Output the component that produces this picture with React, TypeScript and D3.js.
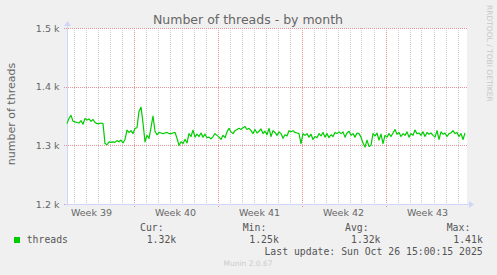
import React from "react";
import * as d3 from "d3";

const W = 497;
const H = 275;

// series: threads, one sample every 4 hours
const startTime = Date.UTC(2025, 8, 23, 11);
const endTime = Date.UTC(2025, 9, 26, 19);
const stepMs = 4 * 3600 * 1000;
const threads = [
  1337, 1346, 1351, 1341, 1340, 1339, 1338, 1342, 1336, 1346, 1343, 1345, 1341, 1344, 1339, 1337, 1337, 1338, 1337,
  1303, 1301, 1306, 1305, 1306, 1305, 1308, 1306, 1309, 1304, 1310,
  1326, 1322, 1325, 1320, 1329, 1330, 1358, 1365, 1338, 1306, 1317, 1312, 1330, 1350, 1324, 1318, 1322, 1321, 1320, 1321, 1322,
  1320, 1320, 1321, 1322, 1312, 1300, 1306, 1303, 1310, 1304, 1320, 1315, 1326, 1314, 1319, 1315, 1321, 1314, 1319, 1313, 1314, 1311, 1315, 1320, 1317, 1314, 1310, 1317, 1313,
  1323, 1329, 1323, 1320, 1325, 1327, 1329, 1327, 1330, 1332, 1327, 1329, 1325, 1320, 1327, 1321, 1324, 1328, 1320, 1324, 1318, 1329, 1315, 1325, 1322, 1317, 1323, 1320, 1312, 1318, 1316, 1325, 1323, 1325, 1322, 1321, 1320,
  1303, 1320, 1317, 1320, 1314, 1319, 1310, 1315, 1313, 1320, 1316, 1322, 1314, 1320, 1313, 1318, 1315, 1322, 1320, 1323, 1320, 1323, 1314, 1321, 1324, 1317, 1320, 1314, 1321, 1320, 1314,
  1304, 1297, 1309, 1298, 1300,
  1320, 1316, 1321, 1309, 1319, 1303, 1317, 1314, 1320, 1315, 1321, 1327, 1319, 1322, 1315, 1320, 1317, 1323, 1314, 1320, 1317, 1326, 1320, 1321, 1317, 1323, 1315, 1322, 1319, 1321, 1317, 1314, 1325, 1310, 1323, 1319, 1321, 1315, 1320, 1321, 1325, 1320, 1322, 1315, 1320, 1310, 1321,
];

const yTicks = [1200, 1300, 1400, 1500];
const yTickLabels = ["1.2 k", "1.3 k", "1.4 k", "1.5 k"];
const yDomain = [1200, 1500];

const legendName = "threads";
const legendHeaders = ["Cur:", "Min:", "Avg:", "Max:"];
const legendValues = ["1.32k", "1.25k", "1.32k", "1.41k"];
const titleText = "Number of threads - by month";
const yLabel = "number of threads";
const lastUpdate = "Last update: Sun Oct 26 15:00:15 2025";
const watermark = "Munin 2.0.67";
const sideText = "RRDTOOL / TOBI OETIKER";

const SANS = "'DejaVu Sans', sans-serif";
const MONO = "'DejaVu Sans Mono', monospace";

export default function App() {
  const left = 67;
  const right = 467;
  const top = 28;
  const bottom = 204;

  const x = d3.scaleUtc().domain([new Date(startTime), new Date(endTime)]).range([left, right]);
  const y = d3.scaleLinear().domain(yDomain).range([bottom, top]);

  const data = threads.map((v, i) => ({ t: new Date(startTime + i * stepMs), v }));
  const line = d3
    .line<{ t: Date; v: number }>()
    .x((d) => x(d.t))
    .y((d) => y(d.v));

  const days = d3.utcDay.range(new Date(startTime), new Date(endTime));
  const weekLabels = d3.utcMonday
    .range(d3.utcMonday.offset(new Date(startTime), -1), new Date(endTime))
    .map((m) => ({ t: new Date(+m + 3.5 * 86400000), label: "Week " + d3.utcFormat("%V")(m) }))
    .filter((d) => x(d.t) > left && x(d.t) < right);

  const crisp = (v: number) => Math.round(v) + 0.5;
  const axisColor = "#CFD6F8";
  const minorGrid = "#cdcdcd";
  const majorGrid = "#e59393";
  const fontColor = "#666666";

  const colX = [140, 242.7, 345, 446.7];
  const valX = [146.7, 249.3, 351, 453.3];

  return (
    <svg width={W} height={H} style={{ position: "absolute", left: 0, top: 0, display: "block" }}>
      <rect x={0} y={0} width={W} height={H} fill="#F0F0F0" />
      <rect x={left} y={top} width={right - left} height={bottom - top} fill="#FFFFFF" />

      {/* vertical grid: minor (daily) */}
      {days
        .filter((d) => d.getUTCDay() !== 1)
        .map((d) => {
          const xv = crisp(x(d));
          return (
            <line
              key={"vm" + +d}
              x1={xv}
              x2={xv}
              y1={top}
              y2={bottom + 2}
              stroke={minorGrid}
              strokeWidth={1}
              strokeDasharray="1,1"
            />
          );
        })}
      {/* vertical grid: major (weekly) */}
      {days
        .filter((d) => d.getUTCDay() === 1)
        .map((d) => {
          const xv = crisp(x(d));
          return (
            <line
              key={"vM" + +d}
              x1={xv}
              x2={xv}
              y1={top}
              y2={bottom + 3}
              stroke={majorGrid}
              strokeWidth={1}
              strokeDasharray="1,1"
            />
          );
        })}

      {/* horizontal grid */}
      {yTicks.map((v) => {
        const yv = crisp(y(v));
        return (
          <line key={"h" + v} x1={left - 3} x2={right} y1={yv} y2={yv} stroke={majorGrid} strokeWidth={1} strokeDasharray="1,1" />
        );
      })}

      {/* axes */}
      <line x1={left + 0.5} x2={left + 0.5} y1={bottom + 2} y2={top - 4} stroke={axisColor} strokeWidth={1} />
      <path d={`M${left + 0.5 - 3.5},${top - 2} L${left + 0.5},${top - 7} L${left + 0.5 + 3.5},${top - 2} Z`} fill={axisColor} />
      <line x1={left - 2} x2={right + 4} y1={bottom + 0.5} y2={bottom + 0.5} stroke={axisColor} strokeWidth={1} />
      <path d={`M${right + 2},${bottom + 0.5 - 3.5} L${right + 7},${bottom + 0.5} L${right + 2},${bottom + 0.5 + 3.5} Z`} fill={axisColor} />

      {/* data line */}
      <path d={line(data) || ""} fill="none" stroke="#00CC00" strokeWidth={1.2} strokeLinejoin="round" />

      {/* y labels */}
      {yTicks.map((v, i) => (
        <text
          key={"yl" + v}
          x={59.5}
          y={y(v) + 3.5}
          textAnchor="end"
          fontFamily={SANS}
          fontSize={9.5}
          fill={fontColor}
        >
          {yTickLabels[i]}
        </text>
      ))}

      {/* week labels */}
      {weekLabels.map((w) => (
        <text key={w.label} x={x(w.t)} y={216} textAnchor="middle" fontFamily={SANS} fontSize={9.5} fill={fontColor}>
          {w.label}
        </text>
      ))}

      {/* title */}
      <text x={248} y={24} textAnchor="middle" fontFamily={SANS} fontSize={12.5} fill={fontColor}>
        {titleText}
      </text>

      {/* y axis label */}
      <text
        transform={`translate(15, ${(top + bottom) / 2 - 2}) rotate(-90)`}
        textAnchor="middle"
        fontFamily={SANS}
        fontSize={11}
        fill={fontColor}
      >
        {yLabel}
      </text>

      {/* side watermark */}
      <text
        transform={`translate(486.5, 5) rotate(90)`}
        textAnchor="start"
        fontFamily={SANS}
        fontSize={7.5}
        fill="#c8c8c8"
      >
        {sideText}
      </text>

      {/* legend */}
      <rect x={14} y={237} width={6} height={6} fill="#00CC00" />
      <text x={26.7} y={243} fontFamily={MONO} fontSize={9.8} fill="#555">
        {legendName}
      </text>
      {legendHeaders.map((h, i) => (
        <text key={h} x={colX[i]} y={231} fontFamily={MONO} fontSize={9.8} fill="#555">
          {h}
        </text>
      ))}
      {legendValues.map((v, i) => (
        <text key={"lv" + i} x={valX[i]} y={243} fontFamily={MONO} fontSize={9.8} fill="#555">
          {v}
        </text>
      ))}
      <text x={482.7} y={255} textAnchor="end" fontFamily={MONO} fontSize={9.8} fill="#555">
        {lastUpdate}
      </text>
      <text x={248} y={266} textAnchor="middle" fontFamily={SANS} fontSize={7.5} fill="#cccccc">
        {watermark}
      </text>
    </svg>
  );
}
